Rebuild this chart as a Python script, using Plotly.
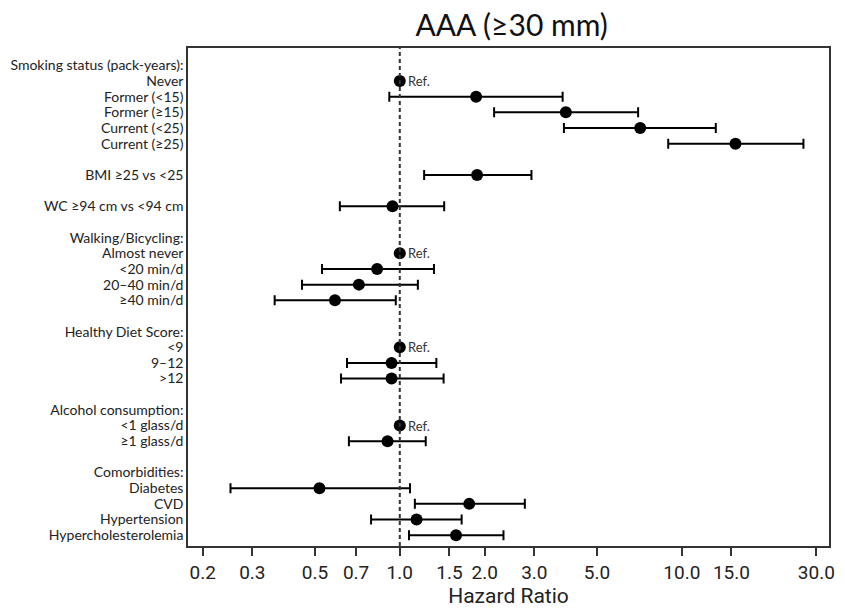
import plotly.graph_objects as go
import math

# Row labels (top to bottom); blank strings are spacer rows
labels = [
    "Smoking status (pack-years):", "Never", "Former (<15)", "Former (≥15)",
    "Current (<25)", "Current (≥25)", "",
    "BMI ≥25 vs <25", "",
    "WC ≥94 cm vs <94 cm", "",
    "Walking/Bicycling:", "Almost never", "<20 min/d", "20–40 min/d", "≥40 min/d", "",
    "Healthy Diet Score:", "<9", "9–12", ">12", "",
    "Alcohol consumption:", "<1 glass/d", "≥1 glass/d", "",
    "Comorbidities:", "Diabetes", "CVD", "Hypertension", "Hypercholesterolemia",
]
# Hazard ratios (None = header/spacer); reference categories flagged
hr = [None, 1.0, 1.865, 3.88, 7.12, 15.5, None,
      1.88, None,
      0.942, None,
      None, 1.0, 0.831, 0.716, 0.589, None,
      None, 1.0, 0.935, 0.935, None,
      None, 1.0, 0.905, None,
      None, 0.519, 1.763, 1.147, 1.583]
lo = [None, None, 0.918, 2.16, 3.82, 8.95, None,
      1.22, None,
      0.613, None,
      None, None, 0.530, 0.450, 0.360, None,
      None, None, 0.650, 0.619, None,
      None, None, 0.660, None,
      None, 0.251, 1.131, 0.791, 1.078]
hi = [None, None, 3.78, 7.00, 13.2, 27.0, None,
      2.93, None,
      1.437, None,
      None, None, 1.322, 1.159, 0.968, None,
      None, None, 1.348, 1.430, None,
      None, None, 1.236, None,
      None, 1.087, 2.776, 1.657, 2.332]
is_ref = [False, True, False, False, False, False, False,
          False, False, False, False,
          False, True, False, False, False, False,
          False, True, False, False, False,
          False, True, False, False,
          False, False, False, False, False]

tick_vals = [0.2, 0.3, 0.5, 0.7, 1.0, 1.5, 2.0, 3.0, 5.0, 10.0, 15.0, 30.0]
tick_text = ["0.2", "0.3", "0.5", "0.7", "1.0", "1.5", "2.0", "3.0", "5.0", "10.0", "15.0", "30.0"]

rows = list(range(len(labels)))
est_idx = [i for i in rows if hr[i] is not None and not is_ref[i]]
ref_idx = [i for i in rows if is_ref[i]]

fig = go.Figure()
fig.add_trace(go.Scatter(
    x=[hr[i] for i in est_idx], y=est_idx, mode="markers",
    marker=dict(color="black", size=12),
    error_x=dict(type="data", symmetric=False,
                 array=[hi[i] - hr[i] for i in est_idx],
                 arrayminus=[hr[i] - lo[i] for i in est_idx],
                 color="black", thickness=2, width=5),
    showlegend=False, hoverinfo="skip"))
fig.add_trace(go.Scatter(
    x=[hr[i] for i in ref_idx], y=ref_idx, mode="markers",
    marker=dict(color="black", size=12), showlegend=False, hoverinfo="skip"))

for i in ref_idx:
    fig.add_annotation(x=math.log10(hr[i]), y=i, text="Ref.", showarrow=False,
                       xanchor="left", yanchor="middle", xshift=6,
                       font=dict(family="Lato", size=13, color="#333"))

fig.add_shape(type="line", xref="x", yref="paper", x0=1.0, x1=1.0, y0=0, y1=1,
              line=dict(color="#333", width=2, dash="4px,3px"))

fig.update_layout(
    width=845, height=608,
    margin=dict(l=187, r=10, t=48, b=62),
    paper_bgcolor="white", plot_bgcolor="white",
    title=dict(text="AAA (≥30 mm)", x=0.6055, xanchor="center", y=0.958, yanchor="middle",
               font=dict(family="Lato", size=30, color="#111")),
    font=dict(family="Lato", color="#222"),
)
fig.update_xaxes(type="log", range=[-0.751, 1.522],
                 tickvals=tick_vals, ticktext=tick_text,
                 ticks="outside", ticklen=8, tickwidth=1.5, tickcolor="#333",
                 tickfont=dict(family="Roboto", size=19, color="#222"),
                 showgrid=False, zeroline=False,
                 showline=True, linecolor="#333", linewidth=1.5, mirror=True,
                 title=dict(text="Hazard Ratio", standoff=0,
                            font=dict(family="Roboto", size=21, color="#222")))
fig.update_yaxes(range=[30.69, -1.11], tickvals=rows, ticktext=labels,
                 ticks="", tickfont=dict(family="Lato", size=14, color="#222"),
                 showgrid=False, zeroline=False,
                 showline=True, linecolor="#333", linewidth=1.5, mirror=True)

fig.write_html("out.html", config={"displayModeBar": False},
               post_script="document.body.style.margin='0';")
